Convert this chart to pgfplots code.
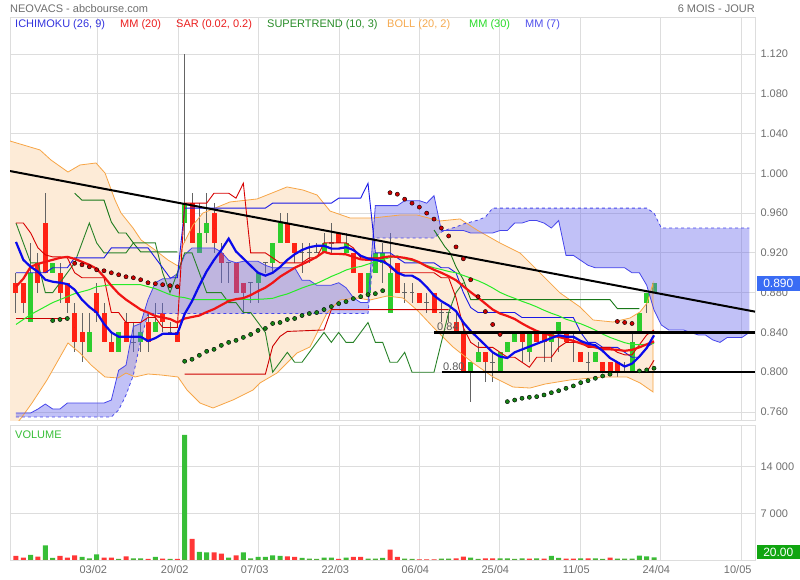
\documentclass[border=0pt]{standalone}
\usepackage{pgfplots}
\pgfplotsset{compat=1.18}
\usepackage{pgfplotstable}
\usepackage{fontspec}
\setmainfont{Liberation Sans}
\newcommand\ff{\fontsize{11}{13}\selectfont}
\definecolor{gridc}{RGB}{221,221,221}
\definecolor{txtg}{RGB}{110,110,110}
\definecolor{cgreen}{RGB}{45,205,45}
\definecolor{cred}{RGB}{255,34,20}
\definecolor{wick}{RGB}{100,100,100}
\definecolor{bbfill}{RGB}{253,235,215}
\definecolor{bbline}{RGB}{247,165,70}
\definecolor{cloud}{RGB}{100,100,235}
\definecolor{kij}{RGB}{25,25,230}
\definecolor{ssac}{RGB}{70,70,235}
\definecolor{ten}{RGB}{215,0,0}
\definecolor{chik}{RGB}{40,130,40}
\definecolor{stg}{RGB}{25,120,25}
\definecolor{str}{RGB}{205,0,0}
\definecolor{mmtw}{RGB}{240,20,20}
\definecolor{mmse}{RGB}{10,10,235}
\definecolor{mmth}{RGB}{40,235,40}
\definecolor{sarr}{RGB}{205,0,0}
\definecolor{sarg}{RGB}{20,130,20}
\definecolor{vg}{RGB}{55,190,55}
\definecolor{vr}{RGB}{255,55,55}
\definecolor{pbox}{RGB}{58,108,244}
\definecolor{vbox}{RGB}{16,165,16}
\definecolor{lgblue}{RGB}{51,51,221}
\definecolor{lgred}{RGB}{235,30,30}
\definecolor{lggreen}{RGB}{40,140,40}
\definecolor{lgorange}{RGB}{245,170,80}
\definecolor{lglime}{RGB}{40,220,40}
\definecolor{lgblue2}{RGB}{80,80,235}
\pgfplotsset{nomark/.style={only marks, mark=*, mark size=0pt, mark options={draw=none, fill=none}}}

\pgfplotstableread{
i o h l c
0 0.89 0.90 0.86 0.88
1 0.89 0.89 0.86 0.87
2 0.85 0.93 0.85 0.90
3 0.91 0.92 0.88 0.89
4 0.95 0.98 0.90 0.90
5 0.90 0.91 0.90 0.91
6 0.90 0.91 0.87 0.88
7 0.89 0.89 0.86 0.87
8 0.86 0.87 0.82 0.83
9 0.84 0.86 0.81 0.83
10 0.82 0.86 0.82 0.84
11 0.88 0.89 0.85 0.86
12 0.86 0.87 0.83 0.83
13 0.83 0.84 0.82 0.82
14 0.82 0.84 0.82 0.84
15 0.85 0.86 0.83 0.83
16 0.83 0.85 0.82 0.83
17 0.83 0.85 0.82 0.84
18 0.85 0.86 0.82 0.83
19 0.84 0.87 0.84 0.85
20 0.86 0.87 0.84 0.85
21 0.84 0.85 0.84 0.84
22 0.84 0.84 0.83 0.83
23 0.95 1.12 0.93 0.97
24 0.97 0.98 0.93 0.93
25 0.92 0.97 0.92 0.94
26 0.94 0.98 0.93 0.95
27 0.96 0.97 0.92 0.93
28 0.92 0.93 0.89 0.91
29 0.91 0.91 0.89 0.91
30 0.91 0.91 0.88 0.88
31 0.89 0.89 0.86 0.88
32 0.89 0.89 0.87 0.89
33 0.89 0.90 0.87 0.90
34 0.91 0.91 0.90 0.91
35 0.91 0.93 0.90 0.93
36 0.93 0.96 0.93 0.95
37 0.95 0.96 0.93 0.93
38 0.93 0.93 0.91 0.92
39 0.92 0.93 0.90 0.92
40 0.92 0.93 0.91 0.92
41 0.92 0.93 0.92 0.92
42 0.92 0.94 0.92 0.93
43 0.93 0.95 0.92 0.93
44 0.94 0.94 0.93 0.93
45 0.92 0.94 0.92 0.93
46 0.92 0.92 0.90 0.90
47 0.90 0.90 0.88 0.88
48 0.88 0.90 0.88 0.90
49 0.90 0.92 0.90 0.92
50 0.91 0.93 0.89 0.92
51 0.86 0.94 0.86 0.90
52 0.91 0.91 0.88 0.88
53 0.88 0.89 0.87 0.88
54 0.88 0.89 0.87 0.88
55 0.88 0.88 0.87 0.87
56 0.87 0.88 0.86 0.87
57 0.88 0.88 0.86 0.86
58 0.86 0.87 0.85 0.86
59 0.86 0.86 0.85 0.86
60 0.85 0.86 0.84 0.84
61 0.84 0.85 0.80 0.80
62 0.80 0.81 0.77 0.81
63 0.81 0.83 0.81 0.82
64 0.82 0.82 0.79 0.81
65 0.81 0.82 0.79 0.81
66 0.80 0.82 0.80 0.82
67 0.82 0.83 0.82 0.83
68 0.83 0.84 0.83 0.84
69 0.84 0.84 0.81 0.83
70 0.82 0.84 0.81 0.84
71 0.84 0.84 0.83 0.83
72 0.84 0.84 0.81 0.83
73 0.83 0.84 0.81 0.84
74 0.84 0.85 0.82 0.85
75 0.84 0.84 0.83 0.83
76 0.83 0.84 0.81 0.83
77 0.82 0.82 0.81 0.81
78 0.81 0.82 0.80 0.81
79 0.81 0.82 0.81 0.82
80 0.81 0.81 0.80 0.80
81 0.81 0.81 0.80 0.80
82 0.81 0.81 0.795 0.80
83 0.80 0.81 0.80 0.80
84 0.80 0.84 0.80 0.83
85 0.84 0.86 0.84 0.86
86 0.87 0.88 0.86 0.88
87 0.88 0.89 0.88 0.89
}\ohlc

\pgfplotstableread{
i v g
0 600 0
1 350 0
2 750 1
3 500 0
4 2200 1
5 300 1
6 600 0
7 350 0
8 700 0
9 450 1
10 250 1
11 850 1
12 350 0
13 350 0
14 150 1
15 550 0
16 250 1
17 250 1
18 150 0
19 450 1
20 200 0
21 150 1
22 150 0
23 18750 1
24 3150 0
25 1200 1
26 1150 1
27 1150 0
28 950 0
29 350 1
30 700 0
31 1150 1
32 250 1
33 450 1
34 450 1
35 700 1
36 600 1
37 550 0
38 450 0
39 300 1
40 200 1
41 150 1
42 350 1
43 350 1
44 150 0
45 350 1
46 450 0
47 450 0
48 200 1
49 200 1
50 300 1
51 1550 0
52 450 0
53 200 1
54 150 1
55 100 0
56 100 0
57 100 0
58 200 1
59 200 1
60 250 0
61 500 0
62 350 1
63 150 1
64 250 0
65 250 0
66 250 1
67 250 1
68 150 1
69 250 1
70 200 0
71 250 1
72 200 0
73 600 1
74 300 1
75 200 0
76 200 0
77 250 1
78 250 0
79 250 1
80 150 1
81 350 0
82 200 1
83 200 1
84 200 1
85 650 1
86 550 1
87 400 1
}\voltab

\pgfplotstableread{
i p
-0.82 1.0325
3.27 1.0235
4.77 1.0134
7.09 1.0013
8.73 1.0084
10.91 1.0104
12.14 1.0003
13.5 0.9732
14.32 0.9601
15.96 0.9450
17.05 0.9330
18.96 0.9229
20.73 0.9128
22.09 0.9068
22.77 0.9280
24.14 0.9481
25.5 0.9601
29.18 0.9712
32.87 0.9742
34.23 0.9782
36.96 0.9863
39.14 0.9832
41.05 0.9782
42.82 0.9621
45.55 0.9551
48.68 0.9551
52.37 0.9581
54.68 0.9581
57.82 0.9521
60.55 0.9541
62.86 0.9430
66.0 0.9299
68.73 0.9199
71.46 0.8998
74.19 0.8797
76.91 0.8656
78.69 0.8525
81.41 0.8505
83.73 0.8545
85.09 0.8606
86.05 0.8696
86.87 0.8897
86.87 0.7801
85.09 0.7892
83.32 0.7952
80.05 0.7952
75.55 0.7922
72.14 0.7881
70.09 0.7841
67.77 0.7851
65.05 0.7952
62.32 0.8093
59.59 0.8254
56.86 0.8455
54.68 0.8626
52.77 0.8746
50.59 0.8766
48.27 0.8726
46.5 0.8746
44.18 0.8726
42.41 0.8595
40.09 0.8254
38.32 0.8193
35.59 0.7992
33.27 0.7892
32.32 0.7821
29.59 0.7721
26.86 0.7640
25.09 0.7690
23.32 0.7821
22.09 0.7952
19.77 0.7972
18.0 0.7982
16.23 0.7952
15.0 0.7992
13.91 0.7942
12.14 0.7952
10.23 0.8073
8.73 0.8193
7.09 0.8294
4.23 0.7922
2.18 0.7690
0.82 0.7550
-0.82 0.7399
}\bbpoly

\pgfplotstableread{
i p
0 0.759
1 0.759
2 0.759
3 0.763
4 0.768
5 0.763
6 0.763
7 0.769
8 0.769
9 0.769
10 0.769
11 0.769
12 0.769
13 0.772
14 0.802
15 0.807
16 0.846
17 0.849
18 0.873
19 0.890
20 0.894
21 0.894
22 0.899
23 0.918
24 0.925
25 0.925
26 0.925
27 0.925
28 0.921
29 0.9125
30 0.91
31 0.9115
32 0.9115
33 0.9115
34 0.9075
35 0.905
36 0.905
37 0.905
38 0.905
39 0.8925
40 0.8925
41 0.8875
42 0.8875
43 0.8875
44 0.89
45 0.885
46 0.875
47 0.87
48 0.87
49 0.9675
50 0.9675
51 0.9675
52 0.9675
53 0.9725
54 0.9725
55 0.9725
56 0.97
57 0.9775
58 0.9425
59 0.9425
60 0.9425
61 0.9425
62 0.94
63 0.94
64 0.94
65 0.94
66 0.9425
67 0.9425
68 0.95
69 0.95
70 0.9525
71 0.9525
72 0.95
73 0.945
74 0.9525
75 0.9175
76 0.9175
77 0.9125
78 0.9075
79 0.905
80 0.905
81 0.905
82 0.905
83 0.905
84 0.90
85 0.90
86 0.8875
87 0.8625
88 0.8475
89 0.8425
90 0.8425
91 0.8425
92 0.84
93 0.8375
94 0.8375
95 0.8325
96 0.83
97 0.835
98 0.835
99 0.835
100 0.84
100 0.945
88 0.945
87 0.96
86 0.965
65 0.965
64 0.956
63 0.953
62 0.951
61 0.949
60 0.946
59 0.944
58 0.941
57 0.935
49 0.935
48 0.859
18 0.859
17 0.832
16 0.797
15 0.777
14 0.762
13 0.755
0 0.755
}\cloudpoly

\begin{document}
\begin{tikzpicture}[font=\ff]
\useasboundingbox (0,0) rectangle (800pt,580pt);
\node[anchor=west, text=txtg, inner sep=0] at (10pt,571.5pt) {NEOVACS - abcbourse.com};
\node[anchor=east, text=txtg, inner sep=0] at (755pt,571.5pt) {6 MOIS - JOUR};

\begin{axis}[
  at={(10pt,159.5pt)}, anchor=south west, scale only axis,
  width=745pt, height=403.5pt,
  xmin=-0.818, xmax=100.77, ymin=0.75144, ymax=1.15721,
  axis line style={draw=gridc},
  xtick={11.09,22.19,33.1,44.09,55.0,65.9,76.95,87.86,98.96},
  xticklabels={}, scaled x ticks=false, scaled y ticks=false,
  ytick={0.76,0.8,0.84,0.88,0.92,0.96,1.0,1.04,1.08,1.12},
  yticklabel pos=right,
  yticklabel style={/pgf/number format/fixed,/pgf/number format/fixed zerofill,/pgf/number format/precision=3,/pgf/number format/assume math mode=true,font=\ff,text=txtg,xshift=2pt},
  grid=major, major grid style={draw=gridc, line width=0.8pt},
  major tick length=0pt,
]
% Bollinger fill
\addplot[fill=bbfill, draw=none] table[x=i,y=p] {\bbpoly};
% candles: wicks
\addplot[nomark, error bars/.cd, y dir=both, y explicit, error mark=none,
  error bar style={line width=1pt, draw=wick}]
  table[x=i, y expr={(\thisrow{h}+\thisrow{l})/2}, y error expr={(\thisrow{h}-\thisrow{l})/2}] {\ohlc};
% bodies
\addplot[nomark, error bars/.cd, y dir=both, y explicit, error mark=none,
  error bar style={line width=5pt, draw=cgreen}]
  table[x=i, y expr={(\thisrow{o}+\thisrow{c})/2}, y error expr={max(\thisrow{c}-\thisrow{o},0)/2}] {\ohlc};
\addplot[nomark, error bars/.cd, y dir=both, y explicit, error mark=none,
  error bar style={line width=5pt, draw=cred}]
  table[x=i, y expr={(\thisrow{o}+\thisrow{c})/2}, y error expr={max(\thisrow{o}-\thisrow{c},0)/2}] {\ohlc};
\addplot[nomark, error bars/.cd, x dir=both, x explicit, error mark=none,
  error bar style={line width=1.2pt, draw=wick}]
  table[x=i, y=c, x error expr={(\thisrow{o}==\thisrow{c})*0.32}] {\ohlc};
% Ichimoku cloud
\addplot[fill=cloud, fill opacity=0.4, draw=none] table[x=i,y=p] {\cloudpoly};
% Bollinger lines
\addplot[bbline, line width=0.8pt] table[x=i,y=p] {\bbpoly};
% Senkou lines
\addplot[ssac, line width=0.8pt] coordinates {(0,0.759)(2,0.759)(3,0.763)(4,0.768)(5,0.763)(6,0.763)(7,0.769)(12,0.769)(13,0.772)(14,0.802)(15,0.807)(16,0.846)(17,0.849)(18,0.873)(19,0.890)(20,0.894)(21,0.894)(22,0.899)(23,0.918)(24,0.925)(27,0.925)(28,0.921)(29,0.9125)(30,0.91)(31,0.9115)(33,0.9115)(34,0.9075)(35,0.905)(38,0.905)(39,0.8925)(40,0.8925)(41,0.8875)(43,0.8875)(44,0.89)(45,0.885)(46,0.875)(47,0.87)(48,0.87)(49,0.9675)(52,0.9675)(53,0.9725)(55,0.9725)(56,0.97)(57,0.9775)(58,0.9425)(61,0.9425)(62,0.94)(65,0.94)(66,0.9425)(67,0.9425)(68,0.95)(69,0.95)(70,0.9525)(71,0.9525)(72,0.95)(73,0.945)(74,0.9525)(75,0.9175)(76,0.9175)(77,0.9125)(78,0.9075)(79,0.905)(83,0.905)(84,0.90)(85,0.90)(86,0.8875)(87,0.8625)(88,0.8475)(89,0.8425)(91,0.8425)(92,0.84)(93,0.8375)(94,0.8375)(95,0.8325)(96,0.83)(97,0.835)(99,0.835)(100,0.84)};
\addplot[ssac, line width=0.8pt, dashed] coordinates {(0,0.755)(13,0.755)(14,0.762)(15,0.777)(16,0.797)(17,0.832)(18,0.859)(48,0.859)(49,0.935)(57,0.935)(58,0.941)(59,0.944)(60,0.946)(61,0.949)(62,0.951)(63,0.953)(64,0.956)(65,0.965)(86,0.965)(87,0.96)(88,0.945)(100,0.945)};
% Chikou
\addplot[chik, line width=0.9pt] coordinates {(0,.95)(1,.93)(2,.91)(3,.91)(4,.88)(5,.88)(6,.89)(7,.90)(8,.91)(9,.93)(10,.95)(11,.93)(12,.92)(13,.92)(14,.92)(15,.92)(16,.93)(17,.93)(18,.93)(19,.93)(20,.90)(21,.88)(22,.90)(23,.92)(24,.92)(25,.90)(26,.88)(27,.88)(28,.88)(29,.87)(30,.87)(31,.86)(32,.86)(33,.85)(34,.84)(35,.80)(36,.81)(37,.82)(38,.81)(39,.81)(40,.82)(41,.83)(42,.84)(43,.83)(44,.84)(45,.83)(46,.83)(47,.84)(48,.85)(49,.83)(50,.83)(51,.81)(52,.81)(53,.82)(54,.80)(55,.80)(56,.80)(57,.80)(58,.83)(59,.86)(60,.88)(61,.89)};
% Supertrend
\addplot[str, line width=0.9pt] coordinates {(0,.854)(7,.854)};
\addplot[stg, line width=0.9pt] coordinates {(8,.98)(9,.973)(12,.973)(13,.951)(14,.94)(15,.94)(16,.93)(17,.921)(22,.921)};
\addplot[str, line width=0.9pt] coordinates {(23,.798)(34,.798)(35,.826)(36,.836)(37,.841)(42,.8425)(43,.863)(59,.863)};
\addplot[stg, line width=0.9pt] coordinates {(57,.943)(58.5,.926)(59.2,.92)(60,.906)(61,.893)(62,.873)(81,.873)(82,.864)(85,.864)};
\addplot[str, line width=0.9pt] coordinates {(86,.80)(87,.812)};
% Kijun
\addplot[kij, line width=0.9pt] coordinates {(0,.90)(4,.90)(5,.905)(7,.905)(8,.915)(12,.915)(13,.925)(18,.925)(19,.915)(20,.905)(21,.895)(22,.895)(23,.965)(34,.965)(35,.97)(43,.97)(44,.975)(47,.975)(48,.99)(49,.92)(51,.92)(52,.915)(53,.91)(57,.91)(58,.905)(59,.905)(60,.90)(61,.88)(62,.865)(63,.86)(68,.86)(69,.855)(76,.855)(77,.84)(78,.83)(79,.83)(80,.825)(82,.825)(83,.82)(84,.815)(85,.815)(86,.825)(87,.83)};
% Tenkan
\addplot[ten, line width=0.9pt] coordinates {(0,.95)(1,.95)(2,.94)(3,.925)(4,.918)(5,.916)(6,.916)(7,.915)(8,.90)(9,.895)(10,.895)(11,.895)(12,.895)(13,.86)(14,.86)(15,.85)(16,.85)(17,.85)(18,.855)(19,.855)(20,.845)(21,.845)(22,.845)(23,.97)(24,.97)(25,.97)(26,.97)(27,.98)(28,.98)(29,.98)(30,.975)(31,.99)(32,.92)(33,.92)(34,.92)(35,.915)(36,.91)(37,.91)(38,.91)(39,.91)(40,.915)(41,.915)(42,.93)(43,.93)(44,.93)(45,.93)(46,.925)(47,.915)(48,.915)(49,.915)(50,.915)(51,.905)(52,.90)(53,.90)(54,.90)(55,.90)(56,.90)(57,.90)(58,.895)(59,.895)(60,.875)(61,.845)(62,.83)(63,.825)(64,.825)(65,.825)(66,.82)(67,.815)(68,.815)(69,.81)(70,.805)(71,.815)(72,.815)(73,.815)(74,.825)(75,.83)(76,.83)(77,.83)(78,.825)(79,.825)(80,.825)(81,.825)(82,.82)(83,.8175)(84,.8175)(85,.8275)(86,.8375)(87,.8425)};
% MM30
\addplot[mmth, line width=1pt] coordinates {(0,.848)(1,.853)(2,.858)(3,.862)(4,.866)(5,.870)(6,.873)(7,.876)(8,.879)(9,.881)(10,.883)(11,.886)(12,.887)(13,.888)(14,.888)(15,.888)(16,.888)(17,.888)(18,.886)(19,.884)(20,.881)(21,.878)(22,.876)(23,.875)(24,.873)(25,.873)(26,.873)(27,.873)(28,.873)(29,.873)(30,.873)(31,.8733)(32,.873)(33,.8733)(34,.8737)(35,.8743)(36,.8767)(37,.8787)(38,.8817)(39,.8847)(40,.8873)(41,.8893)(42,.8927)(43,.8963)(44,.8993)(45,.9027)(46,.905)(47,.9063)(48,.9087)(49,.911)(50,.9133)(51,.9153)(52,.917)(53,.914)(54,.9123)(55,.91)(56,.9073)(57,.905)(58,.9033)(59,.9013)(60,.90)(61,.8973)(62,.8947)(63,.892)(64,.8887)(65,.8847)(66,.8803)(67,.877)(68,.8743)(69,.8713)(70,.8687)(71,.8657)(72,.8623)(73,.8593)(74,.8567)(75,.8533)(76,.851)(77,.8487)(78,.8457)(79,.8423)(80,.8383)(81,.835)(82,.8323)(83,.8297)(84,.828)(85,.8277)(86,.828)(87,.829)};
% MM20
\addplot[mmtw, line width=2.2pt] coordinates {(0,.886)(1,.894)(2,.906)(3,.909)(4,.911)(5,.913)(6,.915)(7,.916)(8,.914)(9,.911)(10,.908)(11,.904)(12,.896)(13,.887)(14,.879)(15,.873)(16,.868)(17,.863)(18,.86)(19,.8565)(20,.855)(21,.8535)(22,.85)(23,.854)(24,.8555)(25,.857)(26,.8605)(27,.8635)(28,.8675)(29,.8715)(30,.8735)(31,.8745)(32,.8775)(33,.8815)(34,.885)(35,.89)(36,.896)(37,.9005)(38,.905)(39,.9085)(40,.912)(41,.916)(42,.921)(43,.919)(44,.919)(45,.9185)(46,.916)(47,.9135)(48,.913)(49,.9135)(50,.9155)(51,.9165)(52,.916)(53,.915)(54,.9135)(55,.9105)(56,.9065)(57,.903)(58,.90)(59,.8965)(60,.8925)(61,.8865)(62,.8805)(63,.875)(64,.869)(65,.863)(66,.859)(67,.8565)(68,.8535)(69,.849)(70,.845)(71,.8415)(72,.839)(73,.837)(74,.8355)(75,.8335)(76,.8315)(77,.829)(78,.8265)(79,.825)(80,.823)(81,.823)(82,.8225)(83,.8215)(84,.8225)(85,.825)(86,.828)(87,.831)};
% MM7
\addplot[mmse, line width=2.2pt] coordinates {(0,.931)(1,.913)(2,.906)(3,.901)(4,.893)(5,.891)(6,.890)(7,.8886)(8,.8829)(9,.8729)(10,.8657)(11,.86)(12,.8486)(13,.84)(14,.8357)(15,.8357)(16,.8357)(17,.8357)(18,.8314)(19,.8343)(20,.8386)(21,.8386)(22,.8386)(23,.8586)(24,.8714)(25,.8871)(26,.9014)(27,.9129)(28,.9229)(29,.9343)(30,.9214)(31,.9143)(32,.9071)(33,.90)(34,.8971)(35,.90)(36,.9057)(37,.9129)(38,.9186)(39,.9229)(40,.9257)(41,.9271)(42,.9271)(43,.9243)(44,.9243)(45,.9257)(46,.9229)(47,.9171)(48,.9143)(49,.9129)(50,.9114)(51,.9071)(52,.90)(53,.8971)(54,.8971)(55,.8929)(56,.8857)(57,.8771)(58,.8714)(59,.8671)(60,.8614)(61,.85)(62,.8414)(63,.8343)(64,.8271)(65,.82)(66,.8157)(67,.8143)(68,.82)(69,.8229)(70,.8257)(71,.8286)(72,.8314)(73,.8343)(74,.8371)(75,.8357)(76,.8357)(77,.8314)(78,.8286)(79,.8271)(80,.8214)(81,.8143)(82,.81)(83,.8057)(84,.8086)(85,.8157)(86,.8243)(87,.8371)};
% trend line and levels
\addplot[black, line width=2pt] coordinates {(-0.82,1.0023)(100.77,0.8609)};
\addplot[black, line width=2.4pt] coordinates {(57.0,0.84)(100.77,0.84)};
\addplot[black, line width=2.4pt] coordinates {(58.05,0.80)(100.77,0.80)};
% SAR
\addplot[only marks, mark=*, mark size=2.1pt, mark options={draw=none, fill=sarr}] coordinates {(8,.9095)(9,.908)(10,.906)(11,.903)(12,.902)(13,.900)(14,.898)(15,.896)(16,.895)(17,.893)(18,.890)(19,.889)(20,.888)(21,.887)(22,.886)(51,.9805)(52,.979)(53,.974)(54,.970)(55,.966)(56,.960)(57,.954)(58,.945)(59,.937)(60,.926)(61,.914)(62,.893)(63,.876)(64,.861)(65,.848)(66,.838)(82,.851)(83,.850)(84,.849)};
\addplot[only marks, mark=*, mark size=2.1pt, mark options={draw=none, fill=sarg}] coordinates {(5,.852)(6,.853)(7,.854)(23,.811)(24,.813)(25,.817)(26,.821)(27,.823)(28,.827)(29,.830)(30,.832)(31,.835)(32,.838)(33,.842)(34,.844)(35,.849)(36,.850)(37,.853)(38,.854)(39,.857)(40,.859)(41,.860)(42,.863)(43,.866)(44,.869)(45,.871)(46,.874)(47,.876)(48,.878)(49,.879)(50,.882)(67,.7704)(68,.772)(69,.7738)(70,.7748)(71,.7754)(72,.7771)(73,.7794)(74,.7814)(75,.7838)(76,.7862)(77,.7895)(78,.7915)(79,.7939)(80,.7962)(81,.798)(85,.8013)(86,.8023)(87,.804)};
\node[anchor=south, inner sep=1pt, text=black!65] at (axis cs:58.9,0.8405) {0.84};
\node[anchor=south, inner sep=1pt, text=black!65] at (axis cs:59.7,0.8005) {0.80};
\end{axis}

\node[anchor=west, inner sep=0, text=lgblue] at (15pt,555pt) {ICHIMOKU (26, 9)};
\node[anchor=west, inner sep=0, text=lgred] at (120pt,555pt) {MM (20)};
\node[anchor=west, inner sep=0, text=lgred] at (176pt,555pt) {SAR (0.02, 0.2)};
\node[anchor=west, inner sep=0, text=lggreen] at (267pt,555pt) {SUPERTREND (10, 3)};
\node[anchor=west, inner sep=0, text=lgorange] at (387pt,555pt) {BOLL (20, 2)};
\node[anchor=west, inner sep=0, text=lglime] at (469pt,555pt) {MM (30)};
\node[anchor=west, inner sep=0, text=lgblue2] at (525pt,555pt) {MM (7)};

\begin{axis}[
  at={(10pt,20pt)}, anchor=south west, scale only axis,
  width=745pt, height=135pt,
  xmin=-0.818, xmax=100.77, ymin=0, ymax=20250,
  axis line style={draw=gridc},
  xtick={11.09,22.19,33.1,44.09,55.0,65.9,76.95,87.86,98.96},
  xticklabels={03/02,20/02,07/03,22/03,06/04,25/04,11/05,24/04,10/05},
  scaled x ticks=false, scaled y ticks=false,
  xticklabel style={font=\ff, text=txtg, anchor=center, yshift=-10pt, xshift=-4pt},
  ytick={7000,14000}, yticklabels={7 000,14 000},
  yticklabel pos=right,
  yticklabel style={font=\ff, text=txtg, xshift=2pt},
  grid=major, major grid style={draw=gridc, line width=0.8pt},
  major tick length=0pt,
]
\addplot[ybar, bar width=5pt, bar shift=0pt, fill=vg, draw=none] table[x=i, y expr={\thisrow{v}*\thisrow{g}}] {\voltab};
\addplot[ybar, bar width=5pt, bar shift=0pt, fill=vr, draw=none] table[x=i, y expr={\thisrow{v}*(1-\thisrow{g})}] {\voltab};
\node[anchor=north west, inner sep=0, text=vg] at (rel axis cs:0.0067,0.955) {VOLUME};
\end{axis}

\node[fill=pbox, text=white, anchor=east, minimum width=43pt, minimum height=15pt, inner sep=0pt, font=\fontsize{12}{14}\selectfont] at (800pt,296.5pt) {0.890};
\node[fill=vbox, text=white, anchor=east, minimum width=43pt, minimum height=14pt, inner sep=0pt, font=\fontsize{12}{14}\selectfont] at (800pt,27.5pt) {20.00};
\end{tikzpicture}
\end{document}
